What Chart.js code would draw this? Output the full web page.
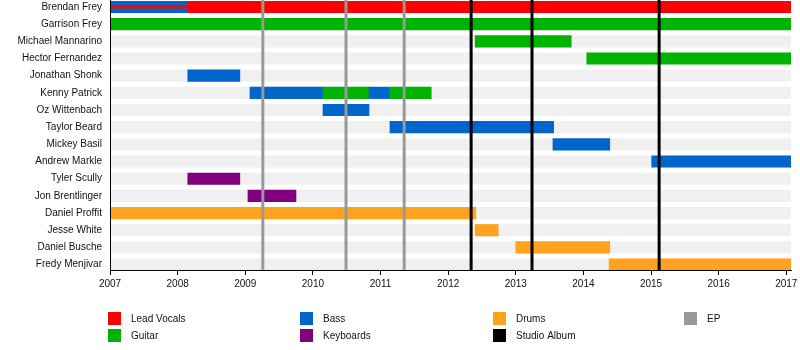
<!DOCTYPE html>
<html>
<head>
<meta charset="utf-8">
<script src="https://cdn.jsdelivr.net/npm/chart.js@4"></script>
<style>
html,body{margin:0;padding:0;background:#fff;}
#wrap{width:800px;height:350px;position:relative;}
canvas{display:block;}
</style>
</head>
<body>
<div id="wrap"><canvas id="c" width="800" height="350" style="width:800px;height:350px"></canvas></div>
<script>
// ---------- DATA ----------
const members = [
  "Brendan Frey", "Garrison Frey", "Michael Mannarino", "Hector Fernandez",
  "Jonathan Shonk", "Kenny Patrick", "Oz Wittenbach", "Taylor Beard",
  "Mickey Basil", "Andrew Markle", "Tyler Scully", "Jon Brentlinger",
  "Daniel Proffit", "Jesse White", "Daniel Busche", "Fredy Menjivar"
];
const yearTicks = [2007, 2008, 2009, 2010, 2011, 2012, 2013, 2014, 2015, 2016, 2017];
const timelineStart = 2007;
const timelineEnd = 2017.07;

// [member, start, end]
const leadVocalsSpans = [["Brendan Frey", 2008.15, 2017.07]];
const leadVocalsOverlay = [["Brendan Frey", 2007, 2008.15]];
const guitarSpans = [
  ["Garrison Frey", 2007, 2017.07],
  ["Michael Mannarino", 2012.40, 2013.82],
  ["Hector Fernandez", 2014.05, 2017.07],
  ["Kenny Patrick", 2010.15, 2010.82],
  ["Kenny Patrick", 2011.14, 2011.75]
];
const bassSpans = [
  ["Brendan Frey", 2007, 2008.15],
  ["Jonathan Shonk", 2008.15, 2008.92],
  ["Kenny Patrick", 2009.07, 2010.15],
  ["Kenny Patrick", 2010.82, 2011.14],
  ["Oz Wittenbach", 2010.15, 2010.83],
  ["Taylor Beard", 2011.14, 2013.56],
  ["Mickey Basil", 2013.55, 2014.39],
  ["Andrew Markle", 2015.01, 2017.07]
];
const keyboardSpans = [
  ["Tyler Scully", 2008.15, 2008.92],
  ["Jon Brentlinger", 2009.04, 2009.75]
];
const drumSpans = [
  ["Daniel Proffit", 2007, 2012.41],
  ["Jesse White", 2012.40, 2012.74],
  ["Daniel Busche", 2013.00, 2014.39],
  ["Fredy Menjivar", 2014.38, 2017.07]
];
const epReleases = [2009.26, 2010.49, 2011.35];
const studioAlbums = [2012.34, 2013.24, 2015.12];

const legendLabels = ["Lead Vocals", "Guitar", "Bass", "Keyboards", "Drums", "Studio Album", "EP"];

// ---------- STYLE ----------
const COL = {
  "Lead Vocals": "#ff0000",
  "Guitar": "#00b300",
  "Bass": "#0066cc",
  "Keyboards": "#800080",
  "Drums": "#ffa31f",
  "Studio Album": "#000000",
  "EP": "#999999",
  stripe: "#f0f0f0",
  text: "#111111"
};
const FONT = { family: "'Liberation Sans', Arial, sans-serif", size: 10 };
const BAR = 11.5;

function toBars(spans) {
  return spans.map(([name, s, e]) => ({ x: [s, e], y: members.indexOf(name) }));
}
const stripeData = members.map((m, i) => ({ x: [timelineStart, timelineEnd], y: i }));

const markerLines = {
  id: 'markerLines',
  afterDatasetsDraw(chart) {
    const { ctx, chartArea, scales } = chart;
    ctx.save();
    const draw = (vals, color) => {
      ctx.strokeStyle = color;
      ctx.lineWidth = 3;
      vals.forEach(v => {
        const px = scales.x.getPixelForValue(v);
        ctx.beginPath();
        ctx.moveTo(px, chartArea.top);
        ctx.lineTo(px, chartArea.bottom);
        ctx.stroke();
      });
    };
    draw(epReleases, COL["EP"]);
    draw(studioAlbums, COL["Studio Album"]);
    ctx.restore();
  }
};

const gridLegend = {
  id: 'gridLegend',
  afterDraw(chart) {
    const ctx = chart.ctx;
    const colX = [108, 300, 493, 684];
    const rowY = [312, 329];
    const box = 13;
    ctx.save();
    ctx.font = FONT.size + "px " + FONT.family;
    ctx.textBaseline = 'middle';
    ctx.textAlign = 'left';
    legendLabels.forEach((lab, i) => {
      const c = Math.floor(i / 2), r = i % 2;
      const x = colX[c], y = rowY[r];
      ctx.fillStyle = COL[lab];
      ctx.fillRect(x, y, box, box);
      ctx.fillStyle = COL.text;
      ctx.fillText(lab, x + 23, y + box / 2 + 0.5);
    });
    ctx.restore();
  }
};

const mk = (label, spans, order, thick) => ({
  label, data: toBars(spans), backgroundColor: COL[label] || COL["Lead Vocals"],
  barThickness: thick || BAR, order, borderWidth: 0
});

new Chart(document.getElementById('c'), {
  type: 'bar',
  data: {
    datasets: [
      { label: 'Lead Vocals overlay', data: toBars(leadVocalsOverlay), backgroundColor: COL["Lead Vocals"], barThickness: 2.5, order: 1 },
      mk("Lead Vocals", leadVocalsSpans, 2),
      mk("Guitar", guitarSpans, 2),
      mk("Bass", bassSpans, 2),
      mk("Keyboards", keyboardSpans, 2),
      mk("Drums", drumSpans, 2),
      { label: 'rows', data: stripeData, backgroundColor: COL.stripe, barThickness: BAR, order: 3 }
    ]
  },
  options: {
    indexAxis: 'y',
    responsive: false,
    animation: false,
    datasets: { bar: { grouped: false } },
    layout: { padding: { top: 0, left: 0, right: 0, bottom: 60 } },
    plugins: { legend: { display: false }, tooltip: { enabled: false } },
    scales: {
      x: {
        type: 'linear',
        offset: false,
        min: timelineStart,
        max: timelineEnd,
        afterBuildTicks: s => { s.ticks = yearTicks.map(v => ({ value: v })); },
        afterFit: s => { s.height = 20; s.paddingLeft = 0; s.paddingRight = 9; },
        ticks: { callback: v => String(v), font: FONT, color: COL.text, padding: 3, maxRotation: 0, autoSkip: false, z: 1 },
        grid: { offset: false, drawOnChartArea: false, drawTicks: true, tickLength: 5, color: '#000', lineWidth: 1 },
        border: { color: '#000', width: 1, z: 2 }
      },
      y: {
        type: 'linear',
        offset: false,
        reverse: true,
        min: -0.408,
        max: 15.317,
        afterBuildTicks: s => { s.ticks = members.map((m, i) => ({ value: i })); },
        afterFit: s => { s.width = 110; s.paddingTop = 0; s.paddingBottom = 0; },
        ticks: { callback: v => members[v], font: FONT, color: COL.text, padding: 8, autoSkip: false, z: 1 },
        grid: { offset: false, display: false, drawTicks: false },
        border: { color: '#000', width: 1, z: 2 }
      }
    }
  },
  plugins: [markerLines, gridLegend]
});
</script>
</body>
</html>
